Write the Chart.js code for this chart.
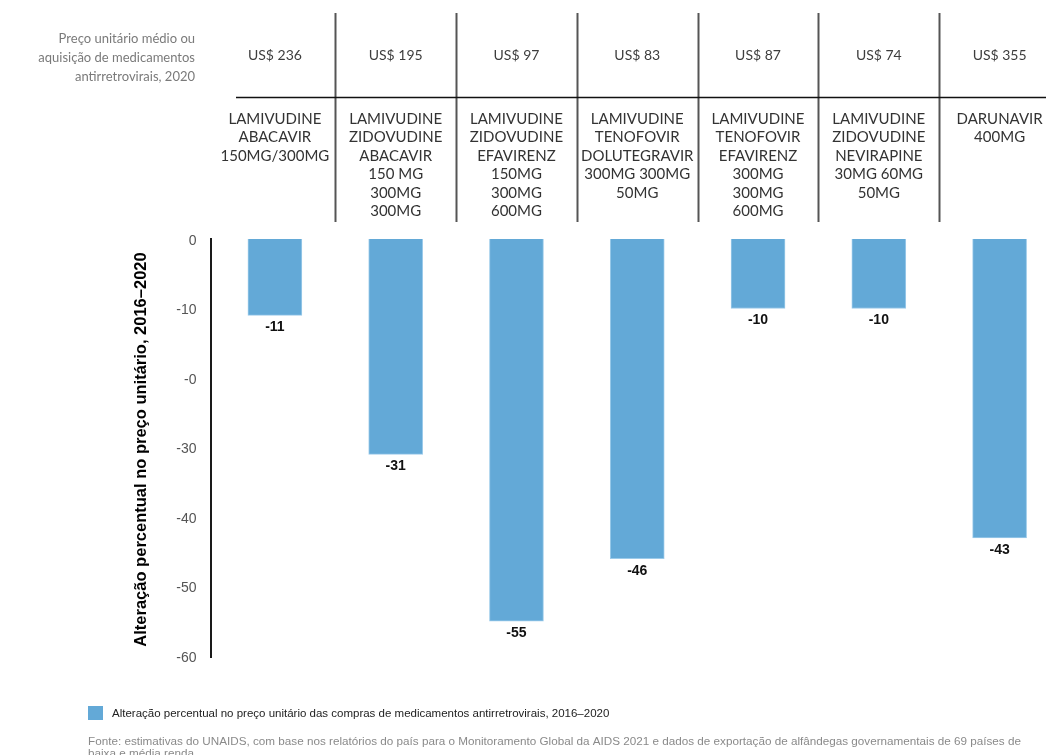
<!DOCTYPE html>
<html>
<head>
<meta charset="utf-8">
<script src="https://cdn.jsdelivr.net/npm/chart.js@4.4.0/dist/chart.umd.min.js"></script>
<style>
  html, body { margin: 0; padding: 0; background: #ffffff; overflow: hidden; }
  #wrap { position: relative; width: 1060px; height: 755px; }
</style>
</head>
<body>
<div id="wrap"><canvas id="chart" width="1060" height="755"></canvas></div>
<script>
// Antiretroviral regimens (one column each)
const categories = [
  'Lamivudine + Abacavir',
  'Lamivudine + Zidovudine + Abacavir',
  'Lamivudine + Zidovudine + Efavirenz',
  'Lamivudine + Tenofovir + Dolutegravir',
  'Lamivudine + Tenofovir + Efavirenz',
  'Lamivudine + Zidovudine + Nevirapine',
  'Darunavir'
];

// Average unit price, 2020
const prices = ['US$ 236', 'US$ 195', 'US$ 97', 'US$ 83', 'US$ 87', 'US$ 74', 'US$ 355'];

// Header text lines under each price
const drugLines = [
  ['LAMIVUDINE', 'ABACAVIR', '150MG/300MG'],
  ['LAMIVUDINE', 'ZIDOVUDINE', 'ABACAVIR', '150 MG', '300MG', '300MG'],
  ['LAMIVUDINE', 'ZIDOVUDINE', 'EFAVIRENZ', '150MG', '300MG', '600MG'],
  ['LAMIVUDINE', 'TENOFOVIR', 'DOLUTEGRAVIR', '300MG 300MG', '50MG'],
  ['LAMIVUDINE', 'TENOFOVIR', 'EFAVIRENZ', '300MG', '300MG', '600MG'],
  ['LAMIVUDINE', 'ZIDOVUDINE', 'NEVIRAPINE', '30MG 60MG', '50MG'],
  ['DARUNAVIR', '400MG']
];

// Percentage change in unit price, 2016-2020
const changes = [-11, -31, -55, -46, -10, -10, -43];

// Y axis tick values and their printed labels
const yTickValues = [0, -10, -20, -30, -40, -50, -60];
const yTickLabels = ['0', '-10', '-0', '-30', '-40', '-50', '-60'];

const headerCaption = ['Preço unitário médio ou', 'aquisição de medicamentos', 'antirretrovirais, 2020'];
const yTitle = 'Alteração percentual no preço unitário, 2016–2020';
const legendLabel = 'Alteração percentual no preço unitário das compras de medicamentos antirretrovirais, 2016–2020';
const sourceLines = [
  'Fonte: estimativas do UNAIDS, com base nos relatórios do país para o Monitoramento Global da AIDS 2021 e dados de exportação de alfândegas governamentais de 69 países de',
  'baixa e média renda'
];

const BAR_COLOR = '#63a9d7';
const HEADER_FONT = '"Lato", "Open Sans", sans-serif';
const BODY_FONT = '"Liberation Sans", Arial, sans-serif';

const decorations = {
  id: 'decorations',
  afterDraw(chart) {
    const ctx = chart.ctx;
    const area = chart.chartArea;
    const xs = chart.scales.x;
    const n = categories.length;
    const px = i => xs.getPixelForValue(i);
    const half = (px(1) - px(0)) / 2;

    ctx.save();

    // Header caption, right aligned
    ctx.font = '13px ' + HEADER_FONT;
    ctx.fillStyle = '#7a7a7a';
    ctx.textAlign = 'right';
    ctx.textBaseline = 'middle';
    headerCaption.forEach((t, k) => ctx.fillText(t, 195, 39 + k * 19));

    // Header grid lines
    ctx.strokeStyle = '#555555';
    ctx.lineWidth = 2;
    for (let i = 0; i < n - 1; i++) {
      const x = Math.round(px(i) + half) + 0.5;
      ctx.beginPath();
      ctx.moveTo(x, 13);
      ctx.lineTo(x, 222);
      ctx.stroke();
    }
    ctx.strokeStyle = '#111111';
    ctx.lineWidth = 1.5;
    ctx.beginPath();
    ctx.moveTo(236, 97.5);
    ctx.lineTo(chart.width, 97.5);
    ctx.stroke();

    // Prices and regimen descriptions
    ctx.textAlign = 'center';
    ctx.font = '14px ' + HEADER_FONT;
    ctx.fillStyle = '#3d3d3d';
    prices.forEach((p, i) => ctx.fillText(p, px(i), 55));
    ctx.font = '15px ' + HEADER_FONT;
    ctx.fillStyle = '#333333';
    drugLines.forEach((lines, i) => {
      lines.forEach((t, k) => ctx.fillText(t, px(i), 119 + k * 18.5));
    });

    // Y axis line
    ctx.strokeStyle = '#1a1a1a';
    ctx.lineWidth = 2;
    ctx.beginPath();
    ctx.moveTo(area.left - 3.5, 238);
    ctx.lineTo(area.left - 3.5, 658);
    ctx.stroke();

    // Y axis title
    ctx.save();
    ctx.translate(141, (area.top + area.bottom) / 2 + 2);
    ctx.rotate(-Math.PI / 2);
    ctx.font = 'bold 16.5px ' + BODY_FONT;
    ctx.fillStyle = '#000000';
    ctx.textAlign = 'center';
    ctx.textBaseline = 'middle';
    ctx.fillText(yTitle, 0, 0);
    ctx.restore();

    // Value labels under the bars
    const meta = chart.getDatasetMeta(0);
    ctx.font = 'bold 14px ' + BODY_FONT;
    ctx.fillStyle = '#111111';
    ctx.textAlign = 'center';
    ctx.textBaseline = 'top';
    meta.data.forEach((bar, i) => {
      ctx.fillText(String(changes[i]), bar.x, bar.y + 5);
    });

    // Legend
    ctx.fillStyle = BAR_COLOR;
    ctx.fillRect(88, 706, 15, 14);
    ctx.font = '11.5px ' + BODY_FONT;
    ctx.fillStyle = '#222222';
    ctx.textAlign = 'left';
    ctx.textBaseline = 'middle';
    ctx.fillText(legendLabel, 112, 714);

    // Source note
    ctx.font = '11.7px ' + BODY_FONT;
    ctx.fillStyle = '#8a8a8a';
    sourceLines.forEach((t, k) => ctx.fillText(t, 88, 742 + k * 11.5));

    ctx.restore();
  }
};

new Chart(document.getElementById('chart'), {
  type: 'bar',
  data: {
    labels: categories,
    datasets: [{
      label: legendLabel,
      data: changes,
      backgroundColor: BAR_COLOR,
      borderColor: '#9ccbea',
      borderWidth: 1,
      barThickness: 54
    }]
  },
  options: {
    responsive: false,
    animation: false,
    devicePixelRatio: 1,
    layout: { padding: { top: 239, bottom: 99, left: 0, right: 0 } },
    plugins: {
      legend: { display: false },
      tooltip: { enabled: false }
    },
    scales: {
      x: {
        display: false,
        offset: true,
        grid: { display: false }
      },
      y: {
        min: -60,
        max: 0,
        afterFit(scale) { scale.width = 214.5; },
        afterBuildTicks(scale) { scale.ticks = yTickValues.map(v => ({ value: v })); },
        border: { display: false },
        grid: { display: false, drawTicks: false, tickLength: 0 },
        ticks: {
          padding: 18,
          labelOffset: 2,
          color: '#555555',
          font: { family: BODY_FONT, size: 14 },
          callback: v => yTickLabels[yTickValues.indexOf(v)]
        }
      }
    }
  },
  plugins: [decorations]
});
</script>
</body>
</html>
